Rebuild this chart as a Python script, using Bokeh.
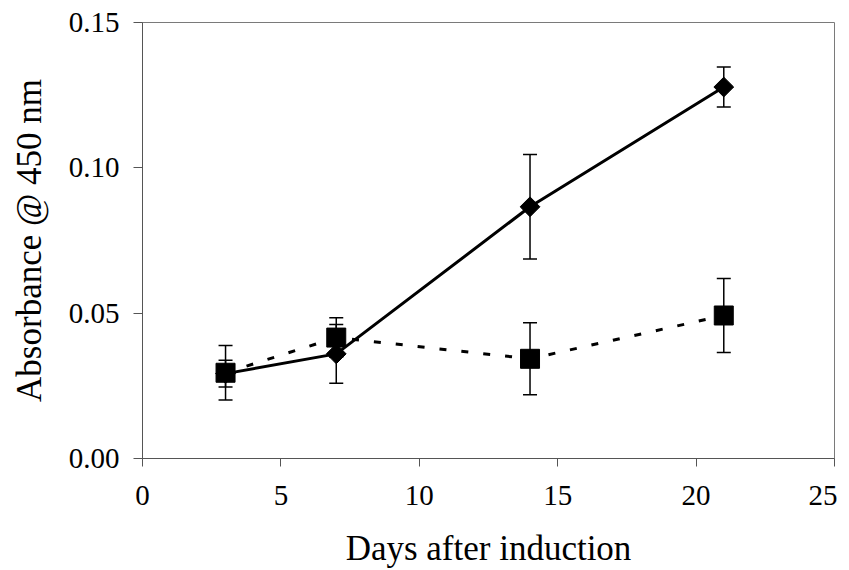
import numpy as np
from bokeh.plotting import figure
from bokeh.models import ColumnDataSource, Whisker, TeeHead, FixedTicker, NumeralTickFormatter, Range1d
from bokeh.embed import file_html
from bokeh.resources import INLINE

days = [3, 7, 14, 21]
induced = [0.0292, 0.0360, 0.0866, 0.1278]
induced_err = [0.0046, 0.0101, 0.0180, 0.0069]
control = [0.0295, 0.0416, 0.0343, 0.0492]
control_err = [0.0094, 0.0068, 0.0124, 0.0127]

x_ticks = [0, 5, 10, 15, 20, 25]
y_ticks = [0.0, 0.05, 0.10, 0.15]

FONT = "Liberation Serif"

p = figure(width=837, height=570, output_backend="svg", toolbar_location=None,
           x_range=Range1d(0, 25), y_range=Range1d(0, 0.15),
           min_border_left=142, min_border_right=3, min_border_top=22, min_border_bottom=112)

p.xgrid.visible = False
p.ygrid.visible = False
p.outline_line_color = "#7a7a7a"
p.outline_line_width = 1
p.background_fill_color = "white"
p.border_fill_color = "white"

for ax in (p.xaxis[0], p.yaxis[0]):
    ax.axis_line_color = "#555555"
    ax.major_tick_line_color = "#555555"
    ax.minor_tick_line_color = None
    ax.major_tick_in = 0
    ax.major_label_text_font = FONT
    ax.major_label_text_font_size = "29px"
    ax.major_label_text_color = "black"
    ax.axis_label_text_font = FONT
    ax.axis_label_text_font_size = "35px"
    ax.axis_label_text_font_style = "normal"
    ax.axis_label_text_color = "black"

p.xaxis.ticker = FixedTicker(ticks=x_ticks)
p.yaxis.ticker = FixedTicker(ticks=y_ticks)
p.yaxis.formatter = NumeralTickFormatter(format="0.00")
p.xaxis.major_tick_out = 8
p.yaxis.major_tick_out = 9
p.xaxis.major_label_standoff = 19
p.yaxis.major_label_standoff = 14
p.xaxis.axis_label = "Days after induction"
p.yaxis.axis_label = "Absorbance @ 450 nm"
p.xaxis.axis_label_standoff = 21
p.yaxis.axis_label_standoff = 17

src_c = ColumnDataSource(dict(x=days, y=control,
                              lo=[v - e for v, e in zip(control, control_err)],
                              hi=[v + e for v, e in zip(control, control_err)]))
src_i = ColumnDataSource(dict(x=days, y=induced,
                              lo=[v - e for v, e in zip(induced, induced_err)],
                              hi=[v + e for v, e in zip(induced, induced_err)]))

for src in (src_c, src_i):
    w = Whisker(source=src, base="x", upper="hi", lower="lo",
                line_color="black", line_width=1.5,
                upper_head=TeeHead(size=14, line_color="black", line_width=1.5),
                lower_head=TeeHead(size=14, line_color="black", line_width=1.5))
    p.add_layout(w)

p.line("x", "y", source=src_c, line_color="black", line_width=3, line_dash="7 15")
p.scatter("x", "y", source=src_c, marker="square", size=19,
          fill_color="black", line_color="black")

p.line("x", "y", source=src_i, line_color="black", line_width=3)
p.scatter("x", "y", source=src_i, marker="square", angle=np.pi / 4, size=14,
          fill_color="black", line_color="black")

open("out.html", "w").write(file_html(p, INLINE))
